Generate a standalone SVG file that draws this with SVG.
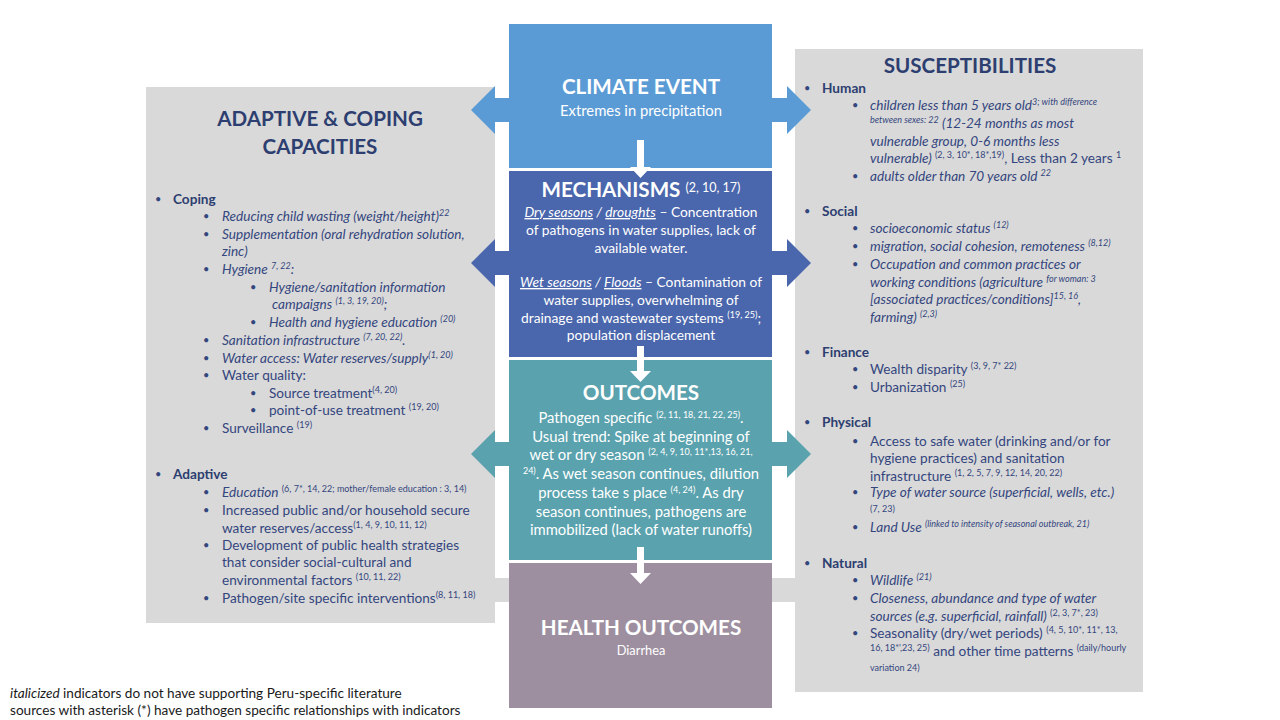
<svg xmlns="http://www.w3.org/2000/svg" width="1280" height="720" viewBox="0 0 1280 720">
  <style>
    text { font-family: Lato, "Open Sans", "Liberation Sans", sans-serif; }
    .p { fill: #34467e; font-size: 13.6px; }
    .h { fill: #2d3e70; font-weight: bold; font-size: 20.6px; text-anchor: middle; }
    .cat { font-weight: bold; fill: #2d3e70; }
    .w { fill: #ffffff; text-anchor: middle; }
    .wt { font-weight: bold; font-size: 20.6px; }
    .i { font-style: italic; }
    .u { text-decoration: underline; }
    .s { font-size: 9px; baseline-shift: super; }
    .sm { font-size: 9px; }
    .bul { fill: #34467e; font-size: 11px; }
    .note { fill: #1a1a1a; font-size: 13.6px; }
  </style>

  <rect width="1280" height="720" fill="#ffffff"/>

  <!-- side panels -->
  <rect id="panel-adaptive" x="146" y="87" width="349" height="536" fill="#d9d9d9"/>
  <rect id="panel-susceptibilities" x="795" y="49" width="348" height="643" fill="#d9d9d9"/>

  <!-- connectors: two-way arrows behind the central column, inward arrows, downward arrows -->
  <g id="connectors">
    <polygon fill="#5b9bd5" points="471,110 495,86 495,98 787,98 787,86 811,110 787,134 787,122 495,122 495,134"/>
    <polygon fill="#4a66ac" points="471,263 495,239 495,251 787,251 787,239 811,263 787,287 787,275 495,275 495,287"/>
    <polygon fill="#5aa2ae" points="471,454 495,430 495,442 787,442 787,430 811,454 787,478 787,466 495,466 495,478"/>
    <polygon fill="#d9d9d9" points="495,578 509,578 509,567 532,590 509,613 509,602 495,602"/>
    <polygon fill="#d9d9d9" points="795,578 770,578 770,567 747,590 770,613 770,602 795,602"/>
  </g>

  <!-- central chain -->
  <g id="climate-event">
    <rect x="509" y="24" width="263" height="144" fill="#5b9bd5"/>
    <text class="w wt" x="641" y="94">CLIMATE EVENT</text>
    <text class="w" x="641" y="116" font-size="14.8">Extremes in precipitation</text>
  </g>

  <g id="mechanisms">
    <rect x="509" y="171" width="263" height="186" fill="#4a66ac"/>
    <text class="w" x="641" y="197"><tspan class="wt">MECHANISMS </tspan><tspan font-size="12.5" dy="-5">(2, 10, 17)</tspan></text>
    <g class="w" font-size="13.8">
      <text x="641" y="217"><tspan class="i u">Dry seasons</tspan><tspan class="i"> / </tspan><tspan class="i u">droughts</tspan> – Concentration</text>
      <text x="641" y="235">of pathogens in water supplies, lack of</text>
      <text x="641" y="253">available water.</text>
      <text x="641" y="287"><tspan class="i u">Wet seasons</tspan><tspan class="i"> / </tspan><tspan class="i u">Floods</tspan> – Contamination of</text>
      <text x="641" y="305">water supplies, overwhelming of</text>
      <text x="641" y="323">drainage and wastewater systems <tspan class="s">(19, 25)</tspan>;</text>
      <text x="641" y="340">population displacement</text>
    </g>
  </g>

  <g id="outcomes">
    <rect x="509" y="360" width="263" height="200" fill="#5aa2ae"/>
    <text class="w wt" x="641" y="400">OUTCOMES</text>
    <g class="w" font-size="14.8">
      <text x="641" y="423">Pathogen specific <tspan class="s">(2, 11, 18, 21, 22, 25)</tspan>.</text>
      <text x="641" y="442">Usual trend: Spike at beginning of</text>
      <text x="641" y="460">wet or dry season <tspan class="s">(2, 4, 9, 10, 11*,13, 16, 21,</tspan></text>
      <text x="641" y="479"><tspan class="s">24)</tspan>. As wet season continues, dilution</text>
      <text x="641" y="498">process take s place <tspan class="s">(4, 24)</tspan>. As dry</text>
      <text x="641" y="517">season continues, pathogens are</text>
      <text x="641" y="535">immobilized (lack of water runoffs)</text>
    </g>
  </g>

  <g id="health-outcomes">
    <rect x="509" y="563" width="263" height="145" fill="#9e8fa0"/>
    <text class="w wt" x="641" y="635">HEALTH OUTCOMES</text>
    <text class="w" x="641" y="655" font-size="12.8">Diarrhea</text>
  </g>

  <!-- downward arrows between stages -->
  <g id="down-arrows" fill="#ffffff">
    <polygon points="637,140 644,140 644,167 651,167 640.5,178 630,167 637,167"/>
    <polygon points="637,346 644,346 644,371 651,371 640.5,382 630,371 637,371"/>
    <polygon points="637,547 644,547 644,573 651,573 640.5,584 630,573 637,573"/>
  </g>

  <!-- adaptive and coping capacities list -->
  <g id="adaptive-coping">
    <text class="h" x="320" y="126">ADAPTIVE &amp; COPING</text>
    <text class="h" x="320" y="154">CAPACITIES</text>
    <g class="bul">
      <text x="155" y="203">•</text>
      <text x="203" y="220">•</text>
      <text x="203" y="238">•</text>
      <text x="203" y="273">•</text>
      <text x="250" y="291">•</text>
      <text x="250" y="326">•</text>
      <text x="203" y="344">•</text>
      <text x="203" y="362">•</text>
      <text x="203" y="379">•</text>
      <text x="250" y="397">•</text>
      <text x="250" y="414">•</text>
      <text x="203" y="432">•</text>
      <text x="155" y="478">•</text>
      <text x="203" y="496">•</text>
      <text x="203" y="514">•</text>
      <text x="203" y="549">•</text>
      <text x="203" y="602">•</text>
    </g>
    <g class="p">
      <text class="cat" x="173" y="204">Coping</text>
      <text class="i" x="222" y="221">Reducing child wasting (weight/height)<tspan class="s">22</tspan></text>
      <text class="i" x="222" y="239">Supplementation (oral rehydration solution,</text>
      <text class="i" x="222" y="256">zinc)</text>
      <text class="i" x="222" y="274">Hygiene <tspan class="s">7, 22</tspan>:</text>
      <text class="i" x="269" y="292">Hygiene/sanitation information</text>
      <text class="i" x="272" y="309">campaigns <tspan class="s">(1, 3, 19, 20)</tspan>;</text>
      <text class="i" x="269" y="327">Health and hygiene education <tspan class="s">(20)</tspan></text>
      <text class="i" x="222" y="345">Sanitation infrastructure <tspan class="s">(7, 20, 22)</tspan>.</text>
      <text class="i" x="222" y="363">Water access: Water reserves/supply<tspan class="s">(1, 20)</tspan></text>
      <text x="222" y="380">Water quality:</text>
      <text x="269" y="398">Source treatment<tspan class="s">(4, 20)</tspan></text>
      <text x="269" y="415">point-of-use treatment <tspan class="s">(19, 20)</tspan></text>
      <text x="222" y="433">Surveillance <tspan class="s">(19)</tspan></text>
      <text class="cat" x="173" y="479">Adaptive</text>
      <text x="222" y="497"><tspan class="i">Education </tspan><tspan class="s">(6, 7*, 14, 22; mother/female education : 3, 14)</tspan></text>
      <text x="222" y="515">Increased public and/or household secure</text>
      <text x="222" y="533">water reserves/access<tspan class="s">(1, 4, 9, 10, 11, 12)</tspan></text>
      <text x="222" y="550">Development of public health strategies</text>
      <text x="222" y="567">that consider social-cultural and</text>
      <text x="222" y="585">environmental factors <tspan class="s">(10, 11, 22)</tspan></text>
      <text x="222" y="603">Pathogen/site specific interventions<tspan class="s">(8, 11, 18)</tspan></text>
    </g>
  </g>

  <!-- susceptibilities list -->
  <g id="susceptibilities">
    <text class="h" x="970" y="73">SUSCEPTIBILITIES</text>
    <g class="bul">
      <text x="804" y="92">•</text>
      <text x="852" y="109">•</text>
      <text x="852" y="180">•</text>
      <text x="804" y="215">•</text>
      <text x="852" y="232">•</text>
      <text x="852" y="250">•</text>
      <text x="852" y="268">•</text>
      <text x="804" y="356">•</text>
      <text x="852" y="373">•</text>
      <text x="852" y="391">•</text>
      <text x="804" y="426">•</text>
      <text x="852" y="445">•</text>
      <text x="852" y="496">•</text>
      <text x="852" y="531">•</text>
      <text x="804" y="567">•</text>
      <text x="852" y="584">•</text>
      <text x="852" y="602">•</text>
      <text x="852" y="637">•</text>
    </g>
    <g class="p">
      <text class="cat" x="822" y="93">Human</text>
      <text class="i" x="870" y="110">children less than 5 years old<tspan class="s">3; with difference</tspan></text>
      <text class="i" x="870" y="128"><tspan class="s">between sexes: 22</tspan> (12-24 months as most</text>
      <text class="i" x="870" y="146">vulnerable group, 0-6 months less</text>
      <text x="870" y="163"><tspan class="i">vulnerable) </tspan><tspan class="s">(2, 3, 10*, 18*,19)</tspan>, Less than 2 years <tspan class="s">1</tspan></text>
      <text class="i" x="870" y="181">adults older than 70 years old <tspan class="s">22</tspan></text>
      <text class="cat" x="822" y="216">Social</text>
      <text class="i" x="870" y="233">socioeconomic status <tspan class="s">(12)</tspan></text>
      <text class="i" x="870" y="251">migration, social cohesion, remoteness <tspan class="s">(8,12)</tspan></text>
      <text class="i" x="870" y="269">Occupation and common practices or</text>
      <text class="i" x="870" y="287">working conditions (agriculture <tspan class="s">for woman: 3</tspan></text>
      <text class="i" x="870" y="304">[associated practices/conditions]<tspan class="s">15, 16</tspan>,</text>
      <text class="i" x="870" y="322">farming) <tspan class="s">(2,3)</tspan></text>
      <text class="cat" x="822" y="357">Finance</text>
      <text x="870" y="374">Wealth disparity <tspan class="s">(3, 9, 7* 22)</tspan></text>
      <text x="870" y="392">Urbanization <tspan class="s">(25)</tspan></text>
      <text class="cat" x="822" y="427">Physical</text>
      <text x="870" y="446">Access to safe water (drinking and/or for</text>
      <text x="870" y="463">hygiene practices) and sanitation</text>
      <text x="870" y="481">infrastructure <tspan class="s">(1, 2, 5, 7, 9, 12, 14, 20, 22)</tspan></text>
      <text class="i" x="870" y="497">Type of water source (superficial, wells, etc.)</text>
      <text class="sm" x="870" y="512">(7, 23)</text>
      <text class="i" x="870" y="532">Land Use <tspan class="s">(linked to intensity of seasonal outbreak, 21)</tspan></text>
      <text class="cat" x="822" y="568">Natural</text>
      <text class="i" x="870" y="585">Wildlife <tspan class="s">(21)</tspan></text>
      <text class="i" x="870" y="603">Closeness, abundance and type of water</text>
      <text class="i" x="870" y="621">sources (e.g. superficial, rainfall) <tspan class="s" font-style="normal">(2, 3, 7*, 23)</tspan></text>
      <text x="870" y="638">Seasonality (dry/wet periods) <tspan class="s">(4, 5, 10*, 11*, 13,</tspan></text>
      <text x="870" y="656"><tspan class="s">16, 18*',23, 25)</tspan> and other time patterns <tspan class="s">(daily/hourly</tspan></text>
      <text class="sm" x="870" y="671">variation 24)</text>
    </g>
  </g>

  <!-- legend notes -->
  <g id="notes" class="note">
    <text x="10" y="698"><tspan class="i">italicized</tspan> indicators do not have supporting Peru-specific literature</text>
    <text x="10" y="715">sources with asterisk (*) have pathogen specific relationships with indicators</text>
  </g>
</svg>
